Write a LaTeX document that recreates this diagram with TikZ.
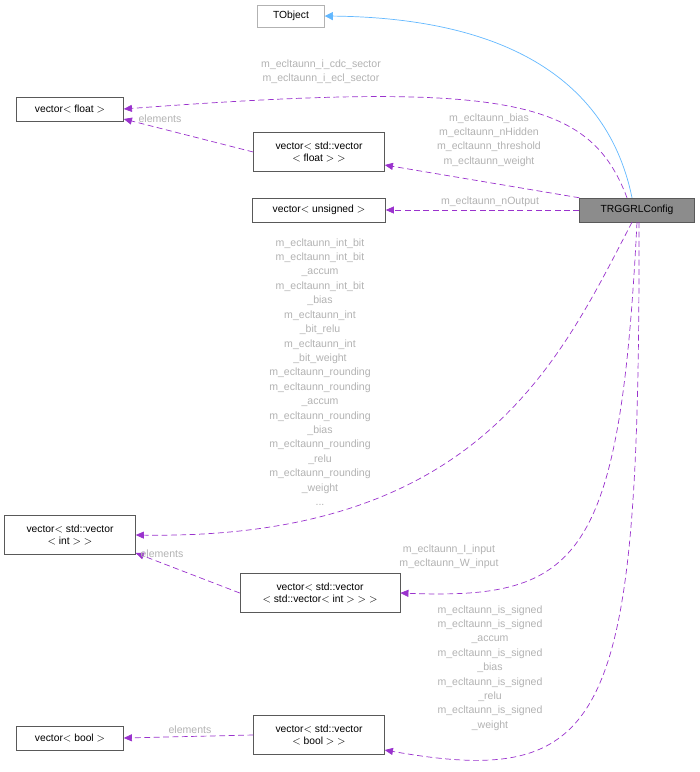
\documentclass[tikz,border=0pt]{standalone}
\usepackage{fontspec}
\setmainfont{Liberation Sans}
\usetikzlibrary{arrows.meta}
\definecolor{usecol}{HTML}{9A32CD}
\definecolor{inhcol}{HTML}{63B8FF}
\tikzset{
  cls/.style={draw=black!65,fill=white,rectangle,align=center,inner sep=2pt,font=\fontsize{8.8}{10.5}\selectfont},
  lbl/.style={text=black!30,align=center,font=\fontsize{9}{12.3}\selectfont,inner sep=0pt},
  use/.style={draw=usecol,dashed,dash pattern=on 5pt off 3pt,semithick,-{Triangle[length=7pt,width=6pt]}},
  inh/.style={draw=inhcol,semithick,-{Triangle[open,length=7pt,width=7pt,fill=inhcol]}}
}
\begin{document}
\begin{tikzpicture}[x=0.03cm,y=-0.03cm]
\useasboundingbox (0,0) rectangle (700,772);
\node[cls,draw=black!30,minimum width=67*0.03cm,minimum height=22*0.03cm] (TObject) at (291,16) {TObject};
\node[cls,minimum width=107*0.03cm,minimum height=24*0.03cm] (VF) at (70,109) {vector$<$ float $>$};
\node[cls,minimum width=131*0.03cm,minimum height=39*0.03cm] (VVF) at (319,152) {vector$<$ std::vector\\$<$ float $>$ $>$};
\node[cls,minimum width=133*0.03cm,minimum height=24*0.03cm] (VU) at (319,210) {vector$<$ unsigned $>$};
\node[cls,fill=black!45,minimum width=115*0.03cm,minimum height=24*0.03cm] (Cfg) at (637,210) {TRGGRLConfig};
\node[cls,minimum width=131*0.03cm,minimum height=39*0.03cm] (VVI) at (70,535) {vector$<$ std::vector\\$<$ int $>$ $>$};
\node[cls,minimum width=160*0.03cm,minimum height=39*0.03cm] (VVVI) at (320,593) {vector$<$ std::vector\\$<$ std::vector$<$ int $>$ $>$ $>$};
\node[cls,minimum width=107*0.03cm,minimum height=24*0.03cm] (VB) at (70,738) {vector$<$ bool $>$};
\node[cls,minimum width=131*0.03cm,minimum height=39*0.03cm] (VVB) at (319,735) {vector$<$ std::vector\\$<$ bool $>$ $>$};
% edges
\draw[inh] (Cfg.north) ++(-5,0) coordinate (c1) .. controls (610,90) and (520,18) .. (TObject.east);
\draw[use] (Cfg.north) ++(-10,0) coordinate (c2) .. controls (590,100) and (510,80) .. (VF.east);
\draw[use] (Cfg.north west) -- (VVF.east |- 0,165);
\draw[use] (Cfg.west) -- (VU.east);
\draw[use] (VVF.west) -- (VF.east |- 0,119);
\draw[use] (Cfg.south) ++(-5,0) coordinate (c3) .. controls (560,360) and (480,540) .. (VVI.east);
\draw[use] (Cfg.south) .. controls (620,560) and (580,600) .. (VVVI.east);
\draw[use] (VVVI.west) -- (VVI.east |- 0,553);
\draw[use] (Cfg.south) ++(2,0) coordinate (c4) .. controls (640,720) and (610,790) .. (VVB.east |- 0,750);
\draw[use] (VVB.west) -- (VB.east);
% labels
\node[lbl] (l1) at (321,72) {m\_ecltaunn\_i\_cdc\_sector\\m\_ecltaunn\_i\_ecl\_sector};
\node[lbl] (l2) at (489,140) {m\_ecltaunn\_bias\\m\_ecltaunn\_nHidden\\m\_ecltaunn\_threshold\\m\_ecltaunn\_weight};
\node[lbl] (l3) at (490,202) {m\_ecltaunn\_nOutput};
\node[lbl] (l4) at (160,119) {elements};
\node[lbl] (l5) at (320,372) {m\_ecltaunn\_int\_bit\\m\_ecltaunn\_int\_bit\\\_accum\\m\_ecltaunn\_int\_bit\\\_bias\\m\_ecltaunn\_int\\\_bit\_relu\\m\_ecltaunn\_int\\\_bit\_weight\\m\_ecltaunn\_rounding\\m\_ecltaunn\_rounding\\\_accum\\m\_ecltaunn\_rounding\\\_bias\\m\_ecltaunn\_rounding\\\_relu\\m\_ecltaunn\_rounding\\\_weight\\...};
\node[lbl] (l6) at (162,554) {elements};
\node[lbl] (l7) at (449,557) {m\_ecltaunn\_I\_input\\m\_ecltaunn\_W\_input};
\node[lbl] (l8) at (490,668) {m\_ecltaunn\_is\_signed\\m\_ecltaunn\_is\_signed\\\_accum\\m\_ecltaunn\_is\_signed\\\_bias\\m\_ecltaunn\_is\_signed\\\_relu\\m\_ecltaunn\_is\_signed\\\_weight};
\node[lbl] (l9) at (190,730) {elements};
\end{tikzpicture}
\end{document}
